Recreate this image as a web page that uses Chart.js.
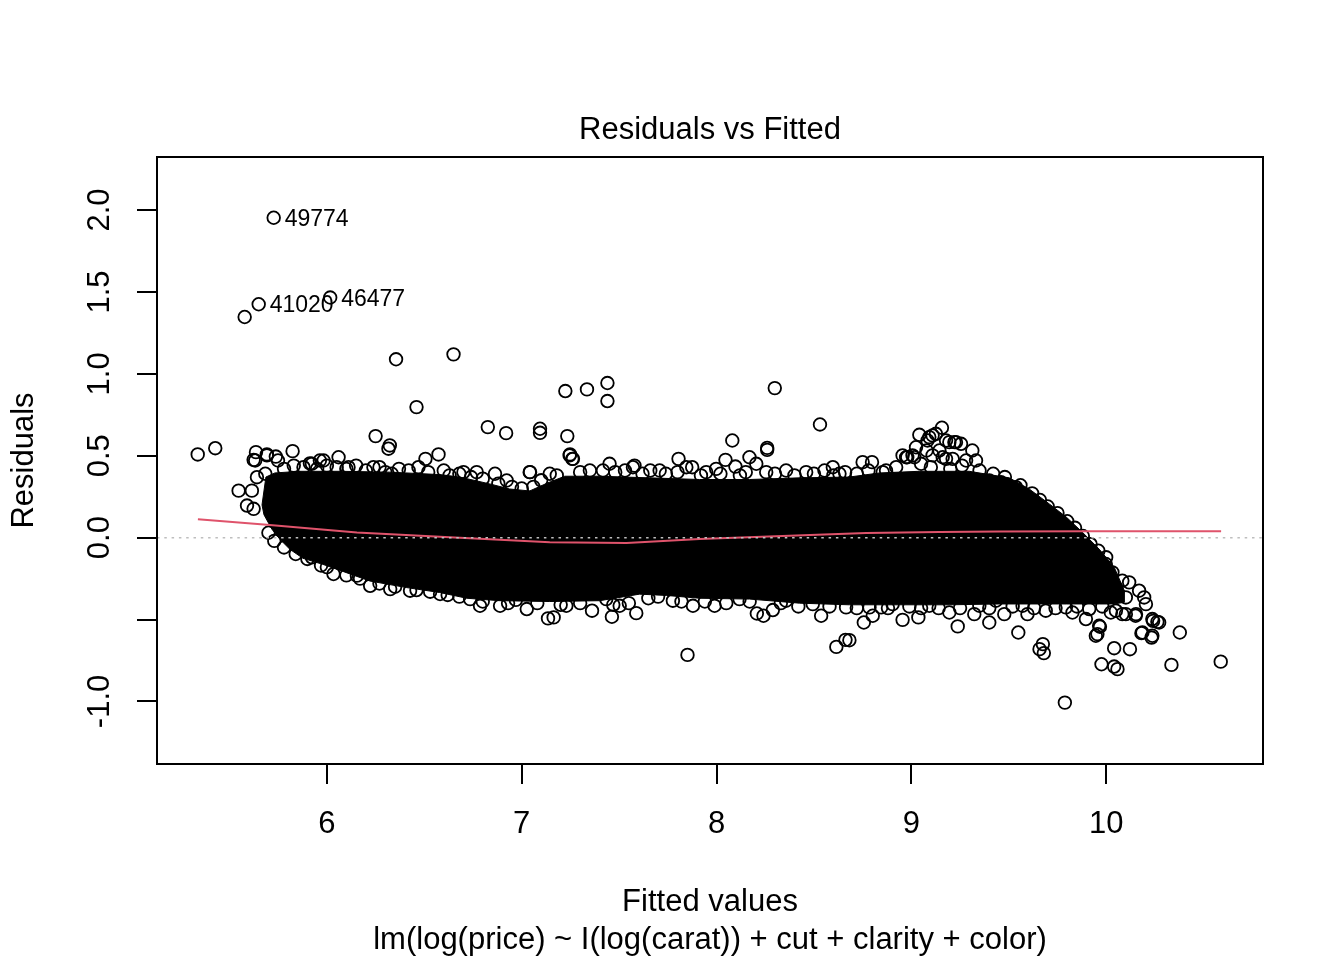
<!DOCTYPE html>
<html>
<head>
<meta charset="utf-8">
<title>Residuals vs Fitted</title>
<script src="https://cdn.jsdelivr.net/npm/chart.js@4.4.1/dist/chart.umd.min.js"></script>
<style>
  body { margin: 0; background: #fff; }
  canvas { display: block; }
</style>
</head>
<body>
<canvas id="resid_chart" width="1344" height="960"></canvas>
<script>
// axis ranges and ticks (R pads the data range by 4%)
var xMin = 5.128, xMax = 10.805;
var yMin = -1.382, yMax = 2.324;
var xTicks = [6, 7, 8, 9, 10];
var yTicks = [-1.0, -0.5, 0.0, 0.5, 1.0, 1.5, 2.0];
var yTickLabels = ["-1.0", "", "0.0", "0.5", "1.0", "1.5", "2.0"];

// outline of the solid mass of overlapping points
var bandTopX = [5.667, 5.687, 5.733, 5.862, 6.067, 6.323, 6.579, 6.682, 6.836, 6.938, 7.041, 7.133, 7.221, 7.400, 7.656,
                7.913, 8.169, 8.426, 8.682, 8.836, 9.041, 9.297, 9.503, 9.605, 9.708, 9.795, 9.877, 9.964, 10.041, 10.092];
var bandTopY = [0.200, 0.370, 0.395, 0.405, 0.405, 0.400, 0.385, 0.370, 0.328, 0.297, 0.285, 0.334, 0.375, 0.375, 0.365,
                0.355, 0.355, 0.365, 0.370, 0.395, 0.405, 0.405, 0.365, 0.297, 0.206, 0.126, 0.034, -0.070, -0.180, -0.320];
var bandBottomX = [10.092, 10.041, 9.964, 9.795, 9.451, 9.195, 8.938, 8.682, 8.426, 8.169, 7.913, 7.744, 7.605, 7.400,
                   7.144, 6.887, 6.718, 6.579, 6.410, 6.221, 6.082, 5.979, 5.877, 5.810, 5.759, 5.718, 5.677];
var bandBottomY = [-0.395, -0.405, -0.405, -0.405, -0.405, -0.410, -0.410, -0.410, -0.400, -0.375, -0.370, -0.353, -0.345, -0.385,
                   -0.390, -0.385, -0.370, -0.335, -0.305, -0.265, -0.206, -0.163, -0.126, -0.071, -0.010, 0.051, 0.140];

// single points outside / on the edge of the mass
var residFitted = [
  5.727, 5.650, 5.578, 6.017, 6.355, 6.650, 6.460, 5.337, 5.427, 6.250, 6.323, 6.316, 6.826, 6.920, 7.094, 7.094,
  7.234, 7.224, 7.335, 7.440, 7.440, 7.248, 7.260, 6.506, 6.573, 5.636, 5.692, 5.738, 5.824, 5.624, 8.299, 8.531,
  8.081, 8.260, 8.260, 8.169, 8.046, 7.805, 8.750, 8.798, 9.157, 9.313, 9.041, 8.979, 9.195, 9.229, 9.092, 9.126,
  9.078, 9.144, 9.178, 9.281, 9.332, 9.109, 9.083, 9.178, 9.221, 9.255, 9.024, 8.973, 9.015, 9.109, 9.161, 9.212,
  9.050, 7.041, 7.144, 7.246, 7.263, 7.451, 7.579, 7.417, 7.708, 7.875, 7.998, 8.097, 8.204, 8.255, 8.357, 8.554,
  8.597, 8.631, 8.870, 7.571, 7.845, 7.947, 8.955, 9.006, 8.853, 8.922, 9.400, 9.460, 9.537,
  5.547, 5.590, 5.624, 5.615, 5.641, 5.684, 5.632, 5.692, 5.749, 5.913, 5.964, 5.923, 5.983, 6.060, 6.111, 6.239,
  6.333, 6.701, 6.769, 6.863, 6.923, 7.043,
  5.923, 6.034, 6.154, 6.222, 6.325, 6.427, 6.581, 6.735, 6.786, 6.889, 7.026, 7.135, 7.164, 7.229, 7.361, 7.434,
  7.463, 7.503, 7.588, 7.776, 7.879, 7.990, 8.118, 8.207, 8.241, 8.289, 8.357, 8.494, 8.537, 8.665, 8.802, 7.851,
  8.615, 8.662, 8.756, 8.682, 8.955, 9.036, 9.195, 9.238, 9.323, 9.400, 9.477, 9.596, 9.690, 9.827, 9.896, 8.845,
  8.785, 8.904, 9.092, 9.349, 9.434, 9.571, 9.793, 9.913, 9.549,
  10.050, 10.101, 10.153, 10.195, 10.204, 9.964, 9.955, 10.024, 10.083, 10.151, 10.237, 10.272, 10.186, 10.237,
  9.998, 10.032, 10.083, 10.118, 10.169, 9.998, 10.050, 10.101, 9.947, 9.968, 10.181, 10.233, 10.263, 10.241,
  9.658, 9.675, 9.680, 10.041, 10.122, 9.976, 10.041, 10.058, 10.335, 10.378, 10.588, 9.788
];
var residValue = [
  1.953, 1.425, 1.347, 1.466, 1.089, 1.119, 0.797, 0.508, 0.546, 0.620, 0.563, 0.543, 0.675, 0.638, 0.665, 0.640,
  0.620, 0.895, 0.905, 0.944, 0.834, 0.508, 0.481, 0.481, 0.508, 0.522, 0.508, 0.495, 0.528, 0.475, 0.913, 0.691,
  0.593, 0.536, 0.548, 0.491, 0.475, 0.481, 0.461, 0.461, 0.671, 0.532, 0.628, 0.491, 0.583, 0.583, 0.614, 0.634,
  0.532, 0.532, 0.481, 0.471, 0.471, 0.624, 0.593, 0.593, 0.583, 0.573, 0.552, 0.491, 0.491, 0.502, 0.491, 0.481,
  0.451, 0.400, 0.390, 0.502, 0.481, 0.451, 0.440, 0.410, 0.410, 0.430, 0.420, 0.434, 0.451, 0.400, 0.410, 0.410,
  0.430, 0.390, 0.410, 0.430, 0.430, 0.400, 0.502, 0.502, 0.400, 0.430, 0.349, 0.338, 0.308,
  0.287, 0.196, 0.176, 0.287, 0.369, 0.390, 0.471, 0.502, 0.471, 0.453, 0.471, 0.451, 0.471, 0.491, 0.430, 0.430,
  0.390, 0.400, 0.400, 0.390, 0.349, 0.400,
  -0.120, -0.222, -0.232, -0.294, -0.314, -0.324, -0.344, -0.375, -0.416, -0.416, -0.436, -0.493, -0.487, -0.416, -0.446, -0.375,
  -0.483, -0.416, -0.461, -0.385, -0.416, -0.416, -0.375, -0.463, -0.477, -0.442, -0.385, -0.406, -0.477, -0.426, -0.477, -0.716,
  -0.667, -0.624, -0.518, -0.626, -0.502, -0.487, -0.457, -0.542, -0.467, -0.518, -0.467, -0.467, -0.446, -0.457, -0.497, -0.426,
  -0.426, -0.406, -0.416, -0.416, -0.385, -0.416, -0.426, -0.436, -0.579,
  -0.446, -0.467, -0.467, -0.365, -0.406, -0.538, -0.589, -0.457, -0.467, -0.477, -0.497, -0.518, -0.579, -0.599,
  -0.161, -0.212, -0.263, -0.273, -0.324, -0.344, -0.304, -0.365, -0.599, -0.544, -0.583, -0.610, -0.514, -0.508,
  -0.681, -0.650, -0.705, -0.675, -0.681, -0.773, -0.787, -0.803, -0.777, -0.579, -0.757, -1.007
];

// circles that make the ragged rim of the mass
var rimFitted = [
  5.78, 5.83, 5.88, 5.95, 6.00, 6.05, 6.10, 6.15, 6.20, 6.27, 6.30, 6.37, 6.42, 6.47, 6.52, 6.60, 6.63, 6.68, 6.74,
  6.80, 6.88, 6.95, 7.00, 7.06, 7.10, 7.18, 7.30, 7.35, 7.48, 7.53, 7.62, 7.66, 7.74, 7.80, 7.92, 8.02, 8.12, 8.15,
  8.30, 8.40, 8.46, 8.50, 8.60, 8.66, 8.72, 8.78, 9.10, 9.20, 9.26, 9.35, 9.42, 9.48, 9.56, 9.62, 9.66, 9.70, 9.75,
  9.80, 9.84, 9.88, 9.92, 9.96, 10.00,
  5.70, 5.73, 5.78, 5.84, 5.90, 5.97, 6.00, 6.10, 6.17, 6.27, 6.35, 6.46, 6.53, 6.62, 6.68, 6.80, 6.93, 6.97, 7.08,
  7.20, 7.30, 7.47, 7.55, 7.65, 7.70, 7.82, 7.94, 8.05, 8.17, 8.33, 8.42, 8.58, 8.72, 8.88, 8.99, 9.05, 9.14, 9.25,
  9.40, 9.52, 9.63, 9.74, 9.85, 9.98
];
var rimResid = [
  0.42, 0.44, 0.43, 0.42, 0.44, 0.43, 0.42, 0.44, 0.41, 0.43, 0.40, 0.42, 0.41, 0.43, 0.40, 0.41, 0.38, 0.39, 0.37,
  0.36, 0.33, 0.31, 0.30, 0.31, 0.35, 0.38, 0.40, 0.41, 0.40, 0.41, 0.39, 0.41, 0.39, 0.40, 0.38, 0.39, 0.38, 0.40,
  0.39, 0.38, 0.40, 0.39, 0.38, 0.40, 0.39, 0.41, 0.43, 0.42, 0.44, 0.41, 0.39, 0.37, 0.32, 0.27, 0.23, 0.19, 0.15,
  0.10, 0.06, 0.01, -0.04, -0.08, -0.12,
  0.03, -0.02, -0.06, -0.10, -0.13, -0.17, -0.18, -0.23, -0.25, -0.28, -0.30, -0.32, -0.33, -0.35, -0.36, -0.39, -0.40, -0.38, -0.40,
  -0.41, -0.40, -0.41, -0.40, -0.37, -0.36, -0.39, -0.39, -0.40, -0.39, -0.40, -0.42, -0.42, -0.43, -0.43, -0.42, -0.43, -0.43, -0.43,
  -0.43, -0.42, -0.43, -0.43, -0.42, -0.42
];

// lowess smooth (red line)
var smoothFitted = [5.338, 5.692, 6.154, 6.631, 7.144, 7.538, 7.913, 8.374, 8.769, 9.144, 9.451, 9.913, 10.590];
var smoothResid = [0.113, 0.078, 0.032, 0.002, -0.028, -0.032, -0.008, 0.012, 0.028, 0.034, 0.038, 0.039, 0.039];

// labelled observations
var idLabels = ["49774", "41020", "46477"];
var idFitted = [5.727, 5.650, 6.017];
var idResid = [1.953, 1.425, 1.466];

var FONT = '"Liberation Sans", Arial, sans-serif';

function to_points(xs, ys) {
    var pts = [];
    for (var i = 0; i < xs.length; i++) {
        pts.push({x: xs[i], y: ys[i]});
    }
    return pts;
}

var band_points = to_points(bandTopX, bandTopY).concat(to_points(bandBottomX, bandBottomY));
band_points.push({x: bandTopX[0], y: bandTopY[0]});

// box, rotated y labels, titles and point ids
var r_furniture = {
    id: "r_furniture",
    afterDraw: function(chart) {
        var ctx = chart.ctx;
        var area = chart.chartArea;
        var xs = chart.scales.x;
        var ys = chart.scales.y;
        var cx = (area.left + area.right) / 2;
        ctx.save();
        ctx.strokeStyle = "#000";
        ctx.lineWidth = 2;
        ctx.strokeRect(area.left, area.top, area.right - area.left, area.bottom - area.top);

        ctx.fillStyle = "#000";
        ctx.font = "31px " + FONT;
        ctx.textAlign = "center";
        ctx.textBaseline = "alphabetic";
        for (var i = 0; i < yTicks.length; i++) {
            if (!yTickLabels[i]) continue;
            ctx.save();
            ctx.translate(area.left - 48, ys.getPixelForValue(yTicks[i]));
            ctx.rotate(-Math.PI / 2);
            ctx.fillText(yTickLabels[i], 0, 0);
            ctx.restore();
        }
        ctx.save();
        ctx.translate(33, (area.top + area.bottom) / 2);
        ctx.rotate(-Math.PI / 2);
        ctx.fillText("Residuals", 0, 0);
        ctx.restore();

        ctx.fillText("Residuals vs Fitted", cx, 139);
        ctx.fillText("Fitted values", cx, 911);
        ctx.fillText("lm(log(price) ~ I(log(carat)) + cut + clarity + color)", cx, 949);

        ctx.font = "23px " + FONT;
        ctx.textAlign = "left";
        for (var j = 0; j < idLabels.length; j++) {
            ctx.fillText(idLabels[j], xs.getPixelForValue(idFitted[j]) + 11, ys.getPixelForValue(idResid[j]) + 8);
        }
        ctx.restore();
    }
};

var circle_style = {
    pointStyle: "circle",
    pointRadius: 6.3,
    pointBorderWidth: 1.8,
    pointBackgroundColor: "rgba(0,0,0,0)",
    pointBorderColor: "#000"
};

var ctx = document.getElementById("resid_chart");
var myChart = new Chart(ctx, {
    type: "scatter",
    data: {
        datasets: [
            {
                label: "zero",
                data: [{x: xMin, y: 0}, {x: xMax, y: 0}],
                showLine: true,
                borderColor: "#BEBEBE",
                borderWidth: 1.5,
                borderDash: [2.5, 4.8],
                pointRadius: 0,
                fill: false,
                order: 0
            },
            {
                label: "smooth",
                data: to_points(smoothFitted, smoothResid),
                showLine: true,
                borderColor: "#DF536B",
                borderWidth: 2,
                pointRadius: 0,
                fill: false,
                tension: 0,
                order: 1
            },
            Object.assign({label: "residuals", data: to_points(residFitted, residValue), order: 2}, circle_style),
            Object.assign({label: "rim", data: to_points(rimFitted, rimResid), order: 3}, circle_style),
            {
                label: "band",
                data: band_points,
                showLine: true,
                fill: "shape",
                backgroundColor: "#000",
                borderColor: "#000",
                borderWidth: 1,
                pointRadius: 0,
                tension: 0,
                order: 4
            }
        ]
    },
    options: {
        responsive: false,
        animation: false,
        devicePixelRatio: 1,
        layout: {padding: {left: 137, right: 81, top: 157, bottom: 95}},
        plugins: {
            legend: {display: false},
            tooltip: {enabled: false}
        },
        scales: {
            x: {
                type: "linear",
                min: xMin,
                max: xMax,
                afterBuildTicks: function(axis) {
                    axis.ticks = xTicks.map(function(v) { return {value: v}; });
                },
                grid: {drawOnChartArea: false, drawTicks: true, tickLength: 20, color: "#000", lineWidth: 2},
                border: {display: false},
                ticks: {
                    color: "#000",
                    font: {family: FONT, size: 31, lineHeight: 1},
                    padding: 25,
                    maxRotation: 0,
                    autoSkip: false,
                    callback: function(v) { return String(v); }
                }
            },
            y: {
                type: "linear",
                min: yMin,
                max: yMax,
                afterBuildTicks: function(axis) {
                    axis.ticks = yTicks.map(function(v) { return {value: v}; });
                },
                grid: {drawOnChartArea: false, drawTicks: true, tickLength: 20, color: "#000", lineWidth: 2},
                border: {display: false},
                ticks: {display: false}
            }
        }
    },
    plugins: [r_furniture]
});
</script>
</body>
</html>
